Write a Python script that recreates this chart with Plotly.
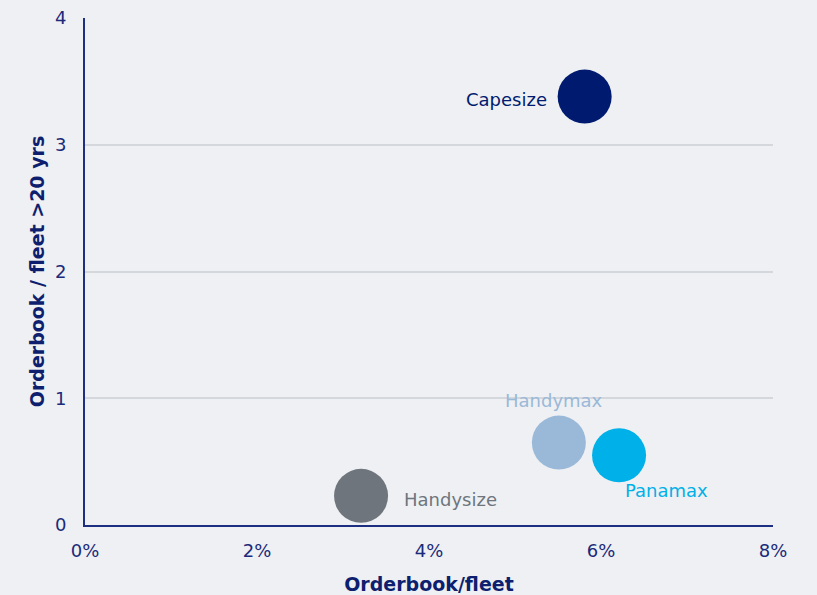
import plotly.graph_objects as go

segments = ["Capesize", "Handymax", "Panamax", "Handysize"]
orderbook_fleet = [5.81, 5.51, 6.21, 3.21]          # %
orderbook_old_fleet = [3.38, 0.65, 0.55, 0.23]      # ratio
colors = ["#001a70", "#9ab9d8", "#00b0e8", "#6e757d"]
# label placement: (xanchor, xshift px, yshift px)
label_place = [("right", -36, -3), ("center", -5, 42), ("left", 4, -35), ("left", 41, -4)]

fig = go.Figure()
for name, x, y, c, (xa, xs, ys) in zip(segments, orderbook_fleet, orderbook_old_fleet, colors, label_place):
    fig.add_trace(go.Scatter(
        x=[x], y=[y], mode="markers",
        marker=dict(size=54, color=c, line=dict(width=0)),
        showlegend=False, cliponaxis=False, name=name,
    ))
    fig.add_annotation(x=x, y=y, text=name, showarrow=False, xanchor=xa, yanchor="middle",
                       xshift=xs, yshift=ys, font=dict(color=c, size=18, family="DejaVu Sans"))

fig.update_layout(
    width=817, height=595,
    margin=dict(l=85, r=44, t=18, b=70),
    paper_bgcolor="#eef0f3", plot_bgcolor="#eef0f3",
    font=dict(family="DejaVu Sans", color="#1b2a7a", size=18),
)
fig.update_xaxes(
    range=[0, 8], tickvals=[0, 2, 4, 6, 8], ticktext=["0%", "2%", "4%", "6%", "8%"],
    showgrid=False, zeroline=False, showline=True, linecolor="#1c2f80", linewidth=2,
    ticks="", ticklabelstandoff=8, automargin=False,
    title=dict(text="<b>Orderbook/fleet</b>", font=dict(size=19, color="#0d1f6e"), standoff=19),
)
fig.update_yaxes(
    range=[0, 4], tickvals=[0, 1, 2, 3, 4],
    showgrid=True, gridcolor="#d4d7db", gridwidth=1.5, zeroline=False,
    showline=True, linecolor="#1c2f80", linewidth=2, ticks="", ticklabelstandoff=13, automargin=False,
    title=dict(text="<b>Orderbook / fleet >20 yrs</b>", font=dict(size=19, color="#0d1f6e"), standoff=5),
)
fig.write_html("out.html", config={"displayModeBar": False},
               post_script="document.body.style.margin='0';document.body.style.overflow='hidden';")
